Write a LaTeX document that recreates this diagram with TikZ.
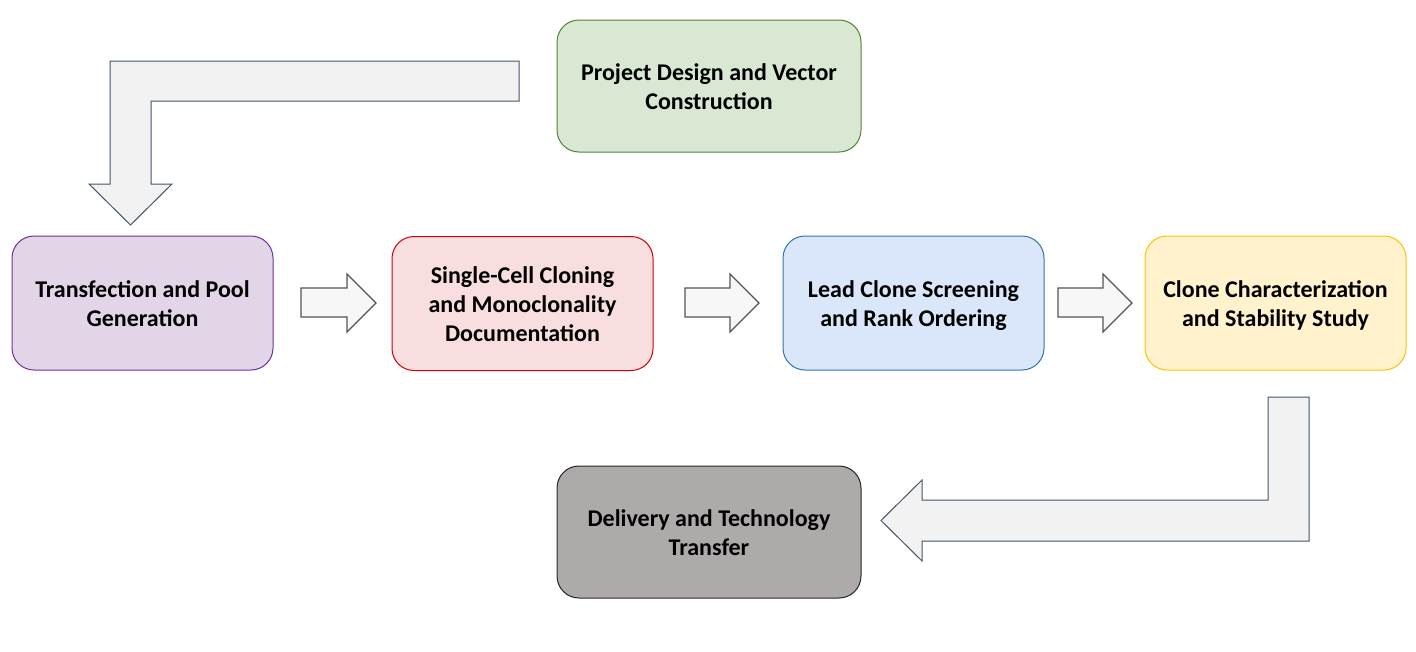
\documentclass[tikz,border=0pt]{standalone}
\usepackage{fontspec}
\setmainfont{Carlito}
\definecolor{gfill}{HTML}{D8E8D3}
\definecolor{gdraw}{HTML}{548235}
\definecolor{pfill}{HTML}{E2D5E8}
\definecolor{pdraw}{HTML}{7030A0}
\definecolor{rfill}{HTML}{F8DEDE}
\definecolor{rdraw}{HTML}{D00000}
\definecolor{bfill}{HTML}{DAE7FB}
\definecolor{bdraw}{HTML}{2E75B6}
\definecolor{yfill}{HTML}{FFF2CC}
\definecolor{ydraw}{HTML}{FFC000}
\definecolor{kfill}{HTML}{AEAAAA}
\definecolor{kdraw}{HTML}{262626}
\definecolor{afill}{HTML}{F2F2F2}
\definecolor{adraw}{HTML}{44546A}
\definecolor{sdraw}{HTML}{555555}
\newcommand{\sline}{\rule[-5.7pt]{0pt}{29pt}}
\begin{document}
\begin{tikzpicture}[x=1pt,y=-1pt,
  stage/.style={rectangle, rounded corners=22pt, line width=1pt, align=center,
    font=\fontsize{24}{29}\selectfont\bfseries, inner sep=0pt,
    minimum width=261pt, minimum height=134pt},
  wide/.style={minimum width=304pt, minimum height=132pt},
  bent/.style={fill=afill, draw=adraw, line width=1pt, line join=miter},
  small/.style={fill=afill!60!white, draw=sdraw, line width=1.2pt, line join=miter}]
\useasboundingbox (0,0) rectangle (1416,651);
% stage boxes
\node[stage, wide, fill=gfill, draw=gdraw] (pd) at (709,86) {\sline Project Design and Vector\\Construction\sline};
\node[stage, fill=pfill, draw=pdraw] (tp) at (142.5,303) {\sline Transfection and Pool\\Generation\sline};
\node[stage, fill=rfill, draw=rdraw] (sc) at (522.5,303.5) {\sline Single-Cell Cloning\\\sline and Monoclonality\\Documentation\sline};
\node[stage, fill=bfill, draw=bdraw] (lc) at (913.5,303) {\sline Lead Clone Screening\\and Rank Ordering\sline};
\node[stage, fill=yfill, draw=ydraw] (cc) at (1275.5,303) {\sline Clone Characterization\\and Stability Study\sline};
\node[stage, wide, fill=kfill, draw=kdraw] (dt) at (709,532) {\sline Delivery and Technology\\Transfer\sline};
% bent arrow top
\draw[bent] (519,61) -- (110,61) -- (110,184) -- (89,184) -- (130.5,225) -- (172,184) -- (151,184) -- (151,101) -- (519,101) -- cycle;
% small arrows
\draw[small] (301,288) -- (347,288) -- (347,274) -- (376,303) -- (347,332) -- (347,317) -- (301,317) -- cycle;
\draw[small] (685,288) -- (730,288) -- (730,274) -- (759,303) -- (730,332) -- (730,317) -- (685,317) -- cycle;
\draw[small] (1058,288) -- (1103,288) -- (1103,274) -- (1132,303) -- (1103,332) -- (1103,317) -- (1058,317) -- cycle;
% bent arrow bottom
\draw[bent] (1268,397) -- (1309,397) -- (1309,541) -- (922,541) -- (922,561) -- (881,520.5) -- (922,480) -- (922,500) -- (1268,500) -- cycle;
\end{tikzpicture}
\end{document}
